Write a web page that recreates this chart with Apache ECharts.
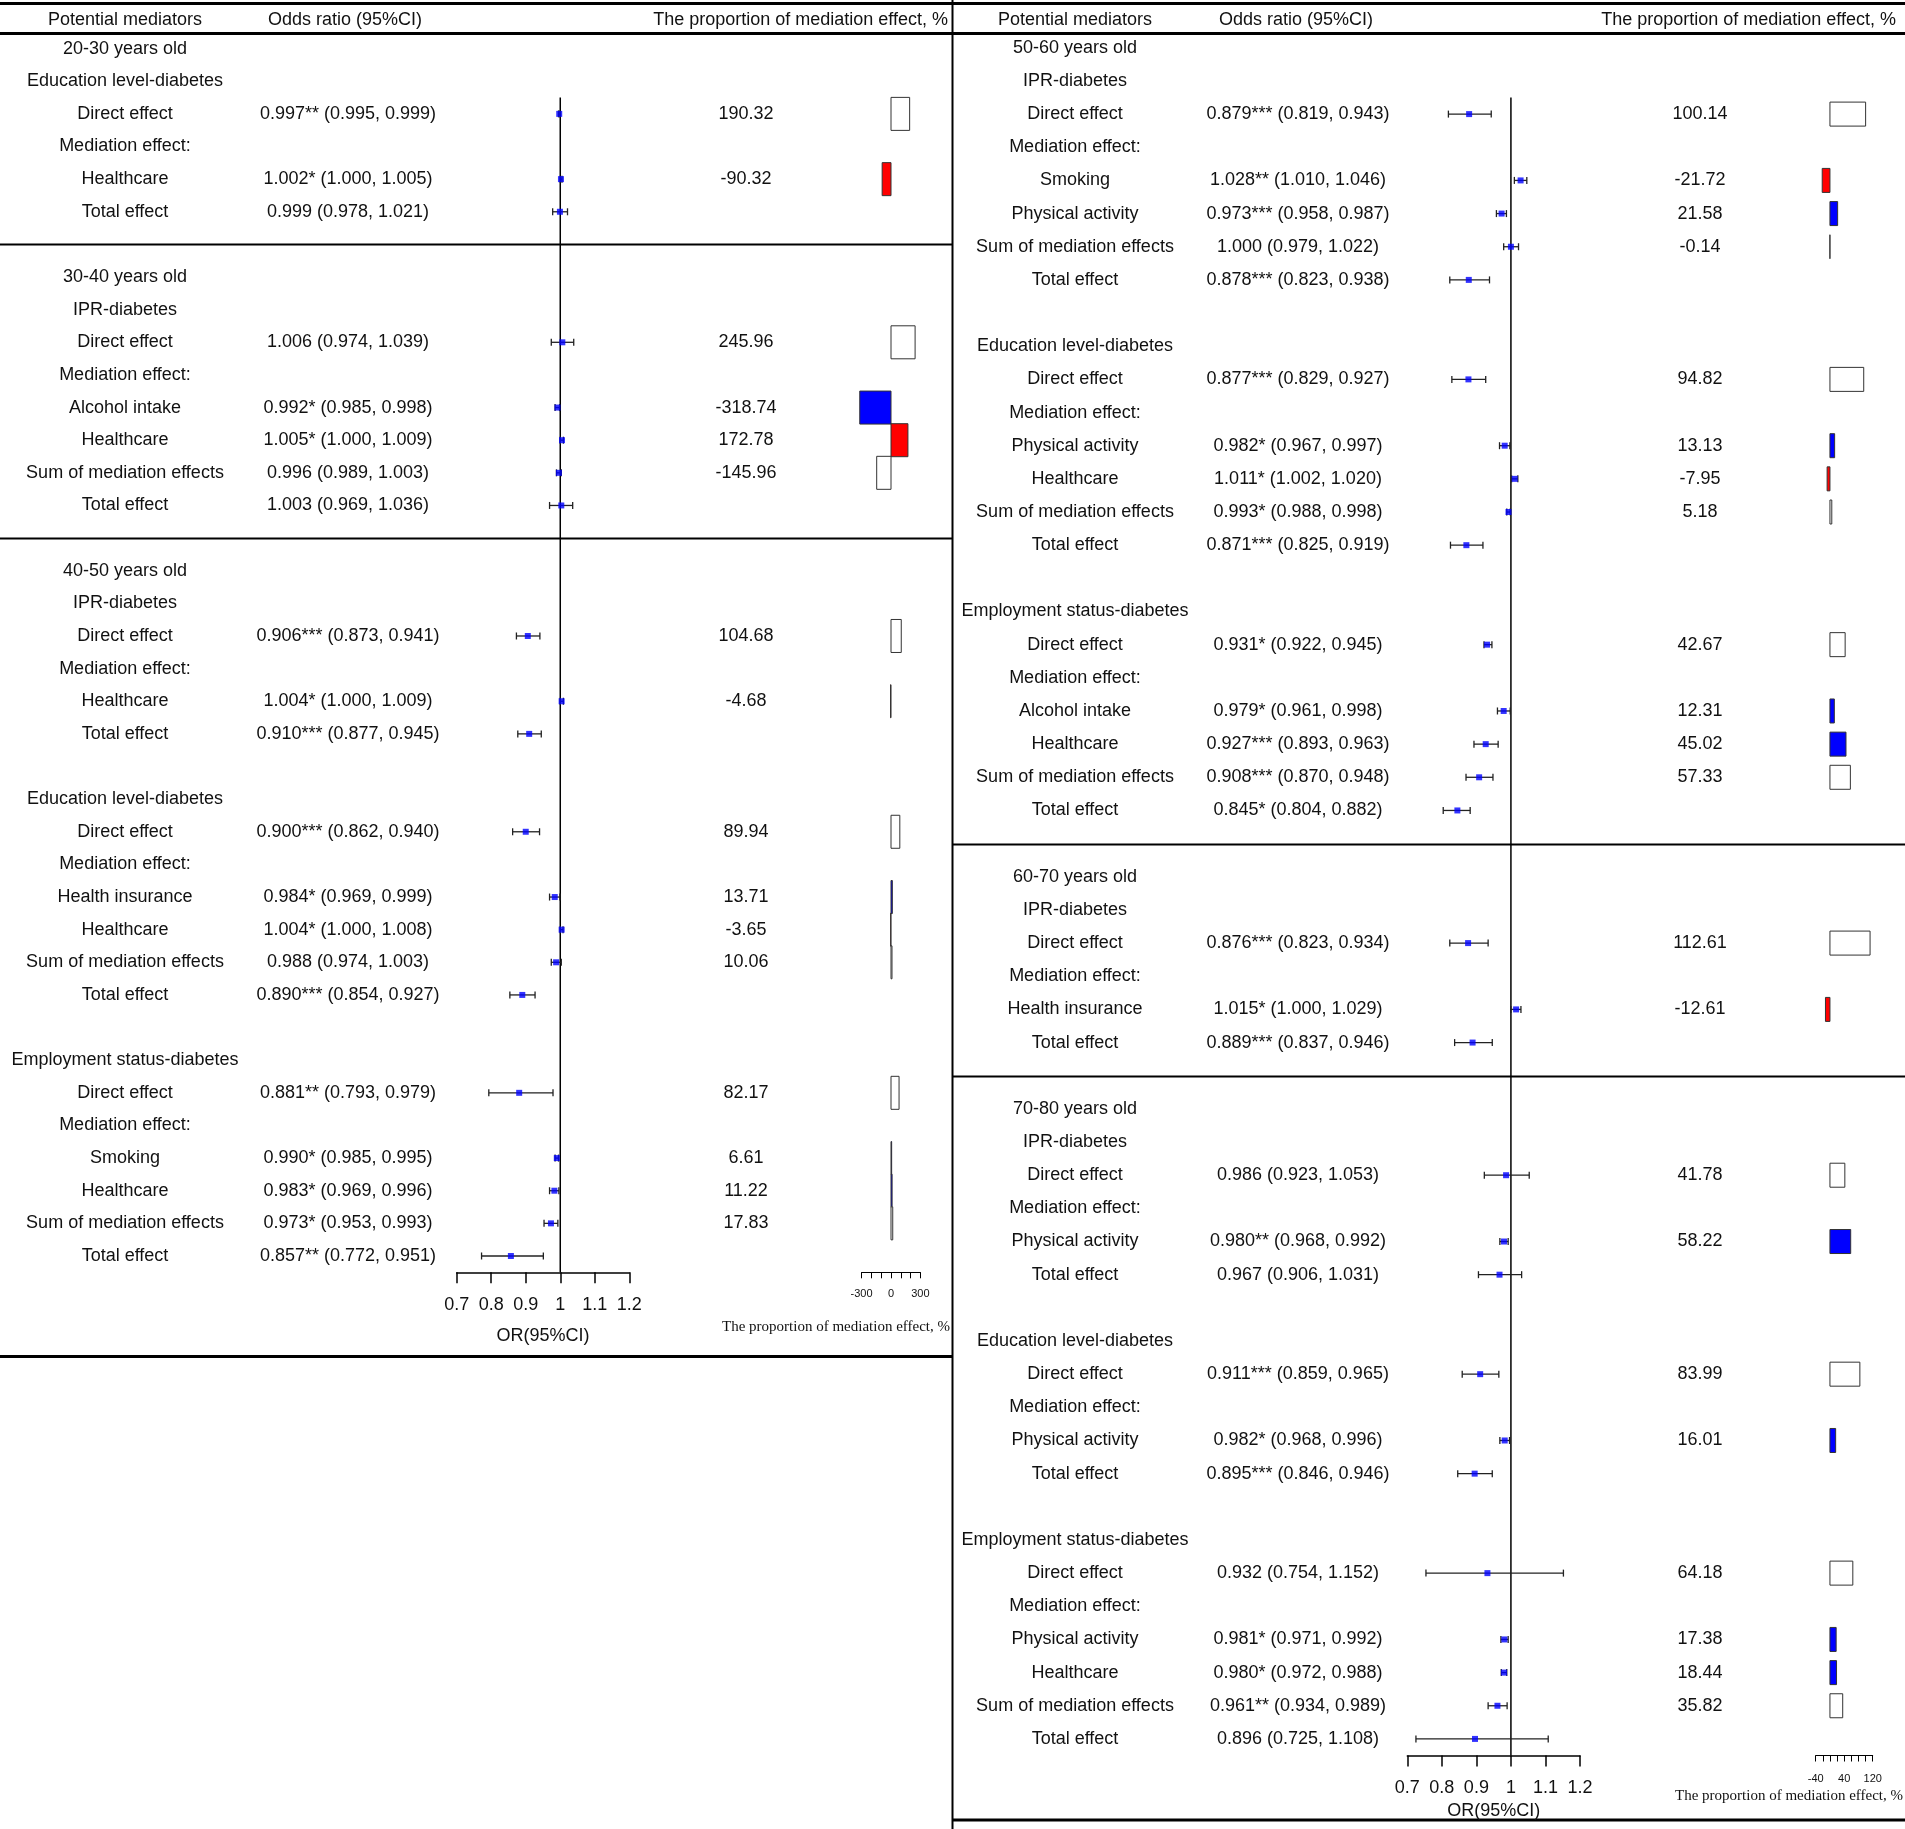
<!DOCTYPE html>
<html lang="en">
<head>
<meta charset="UTF-8">
<title>Mediation effects by age group</title>
<script src="https://cdn.jsdelivr.net/npm/echarts@6/dist/echarts.min.js"></script>
<style>
  html, body { margin: 0; padding: 0; background: #fff; }
  #chart { width: 1905px; height: 1829px; }
</style>
</head>
<body>
<div id="chart"></div>
<script>
// ---- left half: 20-30, 30-40, 40-50 years old ----
var leftLabels = ['20-30 years old', 'Education level-diabetes', 'Direct effect', 'Mediation effect:', 'Healthcare', 'Total effect', '',
  '30-40 years old', 'IPR-diabetes', 'Direct effect', 'Mediation effect:', 'Alcohol intake', 'Healthcare', 'Sum of mediation effects', 'Total effect', '',
  '40-50 years old', 'IPR-diabetes', 'Direct effect', 'Mediation effect:', 'Healthcare', 'Total effect', '',
  'Education level-diabetes', 'Direct effect', 'Mediation effect:', 'Health insurance', 'Healthcare', 'Sum of mediation effects', 'Total effect', '',
  'Employment status-diabetes', 'Direct effect', 'Mediation effect:', 'Smoking', 'Healthcare', 'Sum of mediation effects', 'Total effect'];
var leftOR = [null, null, 0.997, null, 1.002, 0.999, null,
  null, null, 1.006, null, 0.992, 1.005, 0.996, 1.003, null,
  null, null, 0.906, null, 1.004, 0.910, null,
  null, 0.900, null, 0.984, 1.004, 0.988, 0.890, null,
  null, 0.881, null, 0.990, 0.983, 0.973, 0.857];
var leftLow = [null, null, 0.995, null, 1.000, 0.978, null,
  null, null, 0.974, null, 0.985, 1.000, 0.989, 0.969, null,
  null, null, 0.873, null, 1.000, 0.877, null,
  null, 0.862, null, 0.969, 1.000, 0.974, 0.854, null,
  null, 0.793, null, 0.985, 0.969, 0.953, 0.772];
var leftHigh = [null, null, 0.999, null, 1.005, 1.021, null,
  null, null, 1.039, null, 0.998, 1.009, 1.003, 1.036, null,
  null, null, 0.941, null, 1.009, 0.945, null,
  null, 0.940, null, 0.999, 1.008, 1.003, 0.927, null,
  null, 0.979, null, 0.995, 0.996, 0.993, 0.951];
var leftStars = ['', '', '**', '', '*', '', '',
  '', '', '', '', '*', '*', '', '', '',
  '', '', '***', '', '*', '***', '',
  '', '***', '', '*', '*', '', '***', '',
  '', '**', '', '*', '*', '*', '**'];
var leftProp = [null, null, 190.32, null, -90.32, null, null,
  null, null, 245.96, null, -318.74, 172.78, -145.96, null, null,
  null, null, 104.68, null, -4.68, null, null,
  null, 89.94, null, 13.71, -3.65, 10.06, null, null,
  null, 82.17, null, 6.61, 11.22, 17.83, null];
var leftSeps = [6, 15];

// ---- right half: 50-60, 60-70, 70-80 years old ----
var rightLabels = ['50-60 years old', 'IPR-diabetes', 'Direct effect', 'Mediation effect:', 'Smoking', 'Physical activity', 'Sum of mediation effects', 'Total effect', '',
  'Education level-diabetes', 'Direct effect', 'Mediation effect:', 'Physical activity', 'Healthcare', 'Sum of mediation effects', 'Total effect', '',
  'Employment status-diabetes', 'Direct effect', 'Mediation effect:', 'Alcohol intake', 'Healthcare', 'Sum of mediation effects', 'Total effect', '',
  '60-70 years old', 'IPR-diabetes', 'Direct effect', 'Mediation effect:', 'Health insurance', 'Total effect', '',
  '70-80 years old', 'IPR-diabetes', 'Direct effect', 'Mediation effect:', 'Physical activity', 'Total effect', '',
  'Education level-diabetes', 'Direct effect', 'Mediation effect:', 'Physical activity', 'Total effect', '',
  'Employment status-diabetes', 'Direct effect', 'Mediation effect:', 'Physical activity', 'Healthcare', 'Sum of mediation effects', 'Total effect'];
var rightOR = [null, null, 0.879, null, 1.028, 0.973, 1.000, 0.878, null,
  null, 0.877, null, 0.982, 1.011, 0.993, 0.871, null,
  null, 0.931, null, 0.979, 0.927, 0.908, 0.845, null,
  null, null, 0.876, null, 1.015, 0.889, null,
  null, null, 0.986, null, 0.980, 0.967, null,
  null, 0.911, null, 0.982, 0.895, null,
  null, 0.932, null, 0.981, 0.980, 0.961, 0.896];
var rightLow = [null, null, 0.819, null, 1.010, 0.958, 0.979, 0.823, null,
  null, 0.829, null, 0.967, 1.002, 0.988, 0.825, null,
  null, 0.922, null, 0.961, 0.893, 0.870, 0.804, null,
  null, null, 0.823, null, 1.000, 0.837, null,
  null, null, 0.923, null, 0.968, 0.906, null,
  null, 0.859, null, 0.968, 0.846, null,
  null, 0.754, null, 0.971, 0.972, 0.934, 0.725];
var rightHigh = [null, null, 0.943, null, 1.046, 0.987, 1.022, 0.938, null,
  null, 0.927, null, 0.997, 1.020, 0.998, 0.919, null,
  null, 0.945, null, 0.998, 0.963, 0.948, 0.882, null,
  null, null, 0.934, null, 1.029, 0.946, null,
  null, null, 1.053, null, 0.992, 1.031, null,
  null, 0.965, null, 0.996, 0.946, null,
  null, 1.152, null, 0.992, 0.988, 0.989, 1.108];
var rightStars = ['', '', '***', '', '**', '***', '', '***', '',
  '', '***', '', '*', '*', '*', '***', '',
  '', '*', '', '*', '***', '***', '*', '',
  '', '', '***', '', '*', '***', '',
  '', '', '', '', '**', '', '',
  '', '***', '', '*', '***', '',
  '', '', '', '*', '*', '**', ''];
var rightProp = [null, null, 100.14, null, -21.72, 21.58, -0.14, null, null,
  null, 94.82, null, 13.13, -7.95, 5.18, null, null,
  null, 42.67, null, 12.31, 45.02, 57.33, null, null,
  null, null, 112.61, null, -12.61, null, null,
  null, null, 41.78, null, 58.22, null, null,
  null, 83.99, null, 16.01, null, null,
  null, 64.18, null, 17.38, 18.44, 35.82, null];
var rightSeps = [24, 31];

// axis tick labels that are printed
var leftPropLabels = [-300, 0, 300];
var rightPropLabels = [-40, 40, 120];

var FONT = '"Liberation Sans", Arial, sans-serif';
var SERIF = '"Liberation Serif", "Times New Roman", serif';
var BLUE = '#0000ff', RED = '#ff0000', INK = '#111';

function orText(o, s, lo, hi) {
  return o.toFixed(3) + s + ' (' + lo.toFixed(3) + ', ' + hi.toFixed(3) + ')';
}

function txt(x, y, s, size, align, fam) {
  return {
    type: 'text', x: x, y: y, silent: true,
    style: { text: s, font: (size || 18) + 'px ' + (fam || FONT), fill: INK, align: align || 'center', verticalAlign: 'middle' }
  };
}

// one half of the figure -> list of series
function panel(d, g, lay) {
  var n = d.labels.length;
  var ciData = [], ptData = [], barData = [];
  d.or.forEach(function (v, i) {
    if (v == null) return;
    ciData.push([d.low[i], i, d.high[i]]);
    ptData.push([v, i]);
    if (d.prop[i] != null) barData.push([d.prop[i], i, v]);
  });
  var ax = { xAxisIndex: g, yAxisIndex: g, silent: true };
  var pax = { xAxisIndex: g + 1, yAxisIndex: g + 1, silent: true };
  return [
    // text columns
    Object.assign({
      type: 'custom', z: 3,
      data: d.labels.map(function (s, i) { return [1, i]; }),
      renderItem: function (params, api) {
        var i = params.dataIndex;
        var y = api.coord([1, i])[1];
        var kids = [];
        if (d.labels[i]) kids.push(txt(lay.labelX, y, d.labels[i]));
        if (d.or[i] != null) kids.push(txt(lay.orX, y, orText(d.or[i], d.stars[i], d.low[i], d.high[i])));
        if (d.prop[i] != null) kids.push(txt(lay.propX, y, d.prop[i].toFixed(2)));
        return { type: 'group', children: kids };
      }
    }, ax),
    // group separators
    Object.assign({
      type: 'custom', z: 2,
      data: d.seps.map(function (r) { return [1, r]; }),
      renderItem: function (params, api) {
        var y = Math.round(api.coord([1, api.value(1)])[1]) + 0.5;
        return { type: 'line', shape: { x1: lay.x0, y1: y, x2: lay.x1, y2: y }, style: { stroke: '#000', lineWidth: 1.8 } };
      }
    }, ax),
    // OR = 1 reference
    Object.assign({
      type: 'line', symbol: 'none', z: 2,
      data: [[1, 1.5], [1, n - 0.5]],
      lineStyle: { color: '#000', width: 1.5 }
    }, ax),
    // 95% CI whiskers
    Object.assign({
      type: 'custom', z: 4,
      encode: { x: [0, 2], y: 1 },
      data: ciData,
      renderItem: function (params, api) {
        var a = api.coord([api.value(0), api.value(1)]);
        var b = api.coord([api.value(2), api.value(1)]);
        var h = 3.5, st = { stroke: '#222', lineWidth: 1.3 };
        return {
          type: 'group', children: [
            { type: 'line', shape: { x1: a[0], y1: a[1], x2: b[0], y2: b[1] }, style: st },
            { type: 'line', shape: { x1: a[0], y1: a[1] - h, x2: a[0], y2: a[1] + h }, style: st },
            { type: 'line', shape: { x1: b[0], y1: b[1] - h, x2: b[0], y2: b[1] + h }, style: st }
          ]
        };
      }
    }, ax),
    // point estimates
    Object.assign({
      type: 'scatter', z: 5,
      symbol: 'rect', symbolSize: 6,
      itemStyle: { color: BLUE },
      data: ptData
    }, ax),
    // proportion boxes
    Object.assign({
      type: 'custom', z: 4,
      data: barData,
      renderItem: function (params, api) {
        var v = api.value(0), row = api.value(1), o = api.value(2);
        var p0 = api.coord([0, row]), p1 = api.coord([v, row]);
        var lab = d.labels[row];
        var fill = (lab === 'Direct effect' || lab === 'Sum of mediation effects') ? '#fff' : (o > 1 ? RED : BLUE);
        return {
          type: 'rect',
          shape: { x: Math.min(p0[0], p1[0]), y: p0[1] - lay.boxH / 2, width: Math.abs(p1[0] - p0[0]), height: lay.boxH },
          style: { fill: fill, stroke: '#333', lineWidth: 1 }
        };
      }
    }, pax)
  ];
}

var left = { labels: leftLabels, or: leftOR, low: leftLow, high: leftHigh, stars: leftStars, prop: leftProp, seps: leftSeps };
var right = { labels: rightLabels, or: rightOR, low: rightLow, high: rightHigh, stars: rightStars, prop: rightProp, seps: rightSeps };

function orAxis(g, gap) {
  return {
    type: 'value', gridIndex: g, position: 'bottom', min: 0.7, max: 1.2, interval: 0.1,
    axisLine: { onZero: false, lineStyle: { color: '#000', width: 1.5 } },
    axisTick: { length: 11, lineStyle: { color: '#000', width: 1.5 } },
    axisLabel: { color: INK, fontSize: 18, fontFamily: FONT, margin: 24,
      formatter: function (v) { return String(+v.toFixed(1)); } },
    splitLine: { show: false },
    name: 'OR(95%CI)', nameLocation: 'middle', nameGap: gap,
    nameTextStyle: { color: INK, fontSize: 18, fontFamily: FONT }
  };
}
function propAxis(g, min, max, step, shown, margin) {
  return {
    type: 'value', gridIndex: g, position: 'bottom', min: min, max: max, interval: step,
    axisLine: { onZero: false, lineStyle: { color: '#000', width: 1 } },
    axisTick: { length: 6, lineStyle: { color: '#000', width: 1 } },
    axisLabel: { color: INK, fontSize: 11, fontFamily: FONT, margin: margin, showMinLabel: true, showMaxLabel: true,
      formatter: function (v) { return shown.indexOf(Math.round(v)) >= 0 ? String(Math.round(v)) : ''; } },
    splitLine: { show: false }
  };
}
function rowAxis(g, n) {
  return { type: 'value', gridIndex: g, min: -0.5, max: n - 0.5, inverse: true, show: false };
}

var chart = echarts.init(document.getElementById('chart'), null, { renderer: 'canvas' });
chart.setOption({
  backgroundColor: '#fff',
  animation: false,
  grid: [
    { left: 456.7, top: 32.3, width: 172.6, height: 1240, outerBoundsMode: 'none' },
    { left: 861.6, top: 32.3, width: 58.8, height: 1240, outerBoundsMode: 'none' },
    { left: 1407.3, top: 31.2, width: 172.7, height: 1724.3, outerBoundsMode: 'none' },
    { left: 1815.7, top: 31.2, width: 57, height: 1724.3, outerBoundsMode: 'none' }
  ],
  xAxis: [
    orAxis(0, 55),
    propAxis(1, -300, 300, 100, leftPropLabels, 16),
    orAxis(2, 42),
    propAxis(3, -40, 120, 20, rightPropLabels, 18)
  ],
  yAxis: [rowAxis(0, leftLabels.length), rowAxis(1, leftLabels.length), rowAxis(2, rightLabels.length), rowAxis(3, rightLabels.length)],
  series: panel(left, 0, { labelX: 125, orX: 348, propX: 746, x0: 0, x1: 952, boxH: 33 })
    .concat(panel(right, 2, { labelX: 1075, orX: 1298, propX: 1700, x0: 952, x1: 1905, boxH: 24 })),
  graphic: [
    { type: 'line', shape: { x1: 0, y1: 3.5, x2: 1905, y2: 3.5 }, style: { stroke: '#000', lineWidth: 3 } },
    { type: 'line', shape: { x1: 0, y1: 33.5, x2: 1905, y2: 33.5 }, style: { stroke: '#000', lineWidth: 3 } },
    { type: 'line', shape: { x1: 0, y1: 1356.5, x2: 952, y2: 1356.5 }, style: { stroke: '#000', lineWidth: 3 } },
    { type: 'line', shape: { x1: 952, y1: 1820, x2: 1905, y2: 1820 }, style: { stroke: '#000', lineWidth: 3 } },
    { type: 'line', shape: { x1: 952.5, y1: 0, x2: 952.5, y2: 1829 }, style: { stroke: '#000', lineWidth: 2 } },
    txt(125, 20, 'Potential mediators'),
    txt(345, 20, 'Odds ratio (95%CI)'),
    txt(948, 20, 'The proportion of mediation effect, %', 18, 'right'),
    txt(1075, 20, 'Potential mediators'),
    txt(1296, 20, 'Odds ratio (95%CI)'),
    txt(1896, 20, 'The proportion of mediation effect, %', 18, 'right'),
    txt(950, 1327, 'The proportion of mediation effect, %', 15, 'right', SERIF),
    txt(1903, 1796, 'The proportion of mediation effect, %', 15, 'right', SERIF)
  ]
});
</script>
</body>
</html>
